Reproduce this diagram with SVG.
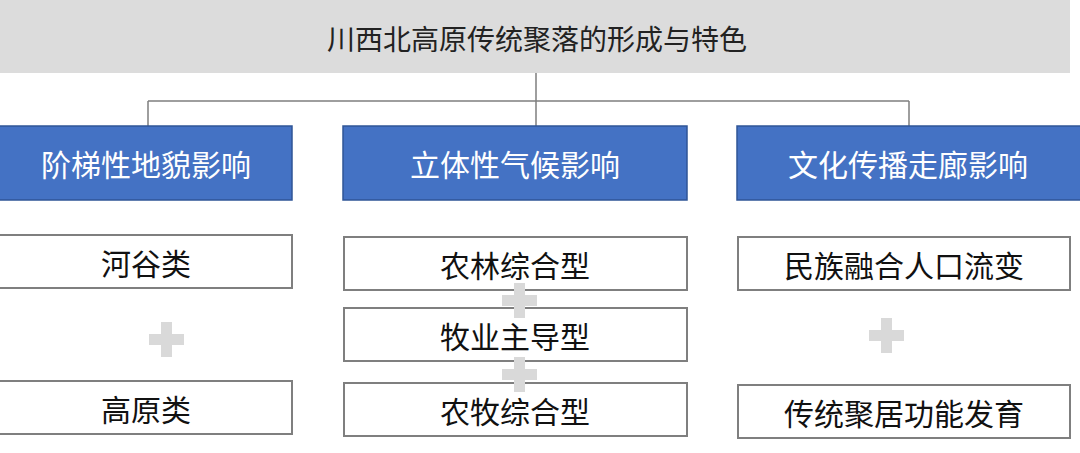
<svg xmlns="http://www.w3.org/2000/svg" width="1080" height="453" viewBox="0 0 1080 453">
<style>
text{font-family:"Noto Sans CJK SC","Noto Sans",sans-serif;text-anchor:middle;dominant-baseline:central}
.t{font-size:28px;fill:#222}
.b rect{fill:#4472c4;stroke:#2f5597;stroke-width:1.5}
.b text{font-size:30px;fill:#fff}
.w rect{fill:#fff;stroke:#7f7f7f;stroke-width:2}
.w text{font-size:30px;fill:#111}
.p{fill:#d9d9d9}
.c{stroke:#7f7f7f;stroke-width:1.5;fill:none}
</style>
<rect width="1080" height="453" fill="#fff"/>
<g id="title"><rect x="0" y="0" width="1070" height="73" fill="#dcdcdc"/><text class="t" x="537" y="38">川西北高原传统聚落的形成与特色</text></g>
<g id="connectors"><path class="c" d="M536 73V101M148 101H909M148 101V126M536 101V126M909 101V126"/></g>
<g id="h1" class="b"><rect x="-1" y="126" width="293" height="74"/><text x="146" y="163">阶梯性地貌影响</text></g>
<g id="h2" class="b"><rect x="343" y="126" width="344" height="74"/><text x="515" y="163">立体性气候影响</text></g>
<g id="h3" class="b"><rect x="737" y="126" width="345" height="74"/><text x="908" y="163">文化传播走廊影响</text></g>
<g id="n1" class="w"><rect x="-1" y="235" width="293" height="53"/><text x="146" y="262">河谷类</text></g>
<g id="n2" class="w"><rect x="-1" y="381" width="293" height="53"/><text x="146" y="408">高原类</text></g>
<g id="n3" class="w"><rect x="344" y="237" width="343" height="53"/><text x="515" y="264">农林综合型</text></g>
<g id="n4" class="w"><rect x="344" y="308" width="343" height="53"/><text x="515" y="335">牧业主导型</text></g>
<g id="n5" class="w"><rect x="344" y="383" width="343" height="53"/><text x="515" y="410">农牧综合型</text></g>
<g id="n6" class="w"><rect x="738" y="237" width="332" height="53"/><text x="904" y="264">民族融合人口流变</text></g>
<g id="n7" class="w"><rect x="738" y="385" width="332" height="53"/><text x="904" y="412">传统聚居功能发育</text></g>
<g id="plus">
<path class="p" d="M161 322h11v12h12v11h-12v12h-11v-12h-12v-11h12z"/>
<path class="p" d="M514 283h11v12h12v11h-12v12h-11v-12h-12v-11h12z"/>
<path class="p" d="M514 357h11v12h12v11h-12v12h-11v-12h-12v-11h12z"/>
<path class="p" d="M881 318h11v12h12v11h-12v12h-11v-12h-12v-11h12z"/>
</g>
</svg>
